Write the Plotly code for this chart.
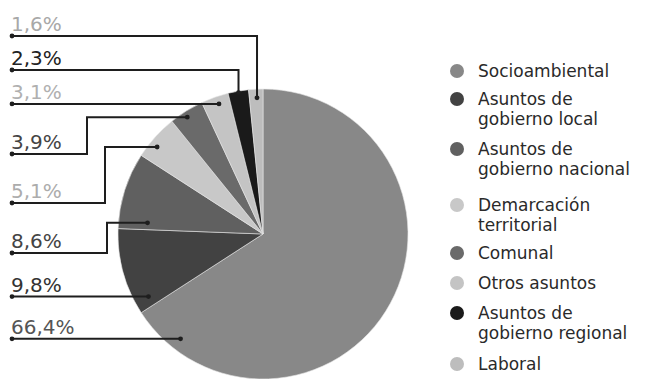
import math
import plotly.graph_objects as go

# Conflict categories and their share of cases (%)
categories = [
    "Socioambiental",
    "Asuntos de gobierno local",
    "Asuntos de gobierno nacional",
    "Demarcación territorial",
    "Comunal",
    "Otros asuntos",
    "Asuntos de gobierno regional",
    "Laboral",
]
shares = [66.4, 9.8, 8.6, 5.1, 3.9, 3.1, 2.3, 1.6]

# Legend wording, split over lines as printed
legend_text = [
    ["Socioambiental"],
    ["Asuntos de", "gobierno local"],
    ["Asuntos de", "gobierno nacional"],
    ["Demarcación", "territorial"],
    ["Comunal"],
    ["Otros asuntos"],
    ["Asuntos de", "gobierno regional"],
    ["Laboral"],
]

# ---- styling -------------------------------------------------------------
W, H = 663, 379
CX, CY, R = 263, 234, 145

slice_colors = ["#888888", "#424242", "#606060", "#c8c8c8",
                "#6a6a6a", "#c4c4c4", "#1a1a1a", "#bdbdbd"]
label_colors = ["#555555", "#333333", "#444444", "#acacac",
                "#444444", "#b0b0b0", "#222222", "#a8a8a8"]

# leader routing: position inside the slice (fraction of its arc, fraction of radius)
leader = [
    dict(t=0.92, r=0.92, kind="flat"),
    dict(t=0.12, r=0.90, kind="flat"),
    dict(t=0.11, r=0.80, kind="step", row=253, elbow=107),
    dict(t=0.36, r=0.945, kind="step", row=203, elbow=105),
    dict(t=0.43, r=0.96, kind="step", row=154, elbow=87),
    dict(t=0.57, r=0.947, kind="flat"),
    dict(t=0.50, r=0.99, kind="drop", row=70),
    dict(t=0.56, r=0.94, kind="drop", row=36),
]
legend_rows = [[71], [99, 119], [149, 169], [205, 225], [253], [283], [313, 333], [364]]

LINE_X0 = 12
LINE_COLOR = "#1e1e1e"
PCT_FONT = "DejaVu Sans"
LEG_FONT = "DejaVu Sans"

fig = go.Figure()

fig.add_trace(go.Pie(
    labels=categories,
    values=shares,
    sort=False,
    direction="clockwise",
    rotation=0,
    textinfo="none",
    hoverinfo="label+percent",
    marker=dict(colors=slice_colors, line=dict(color="#e6e6e6", width=0.6)),
    domain=dict(x=[(CX - R) / W, (CX + R) / W], y=[(H - CY - R) / H, (H - CY + R) / H]),
    showlegend=False,
))

shapes = []
annotations = []

total = sum(shares)
cum = 0.0
for i, v in enumerate(shares):
    start = cum / total * 360.0
    span = v / total * 360.0
    cum += v
    st = leader[i]
    theta = math.radians(start + st["t"] * span)
    rr = st["r"] * R
    ex = CX + rr * math.sin(theta)
    ey = CY - rr * math.cos(theta)

    if st["kind"] == "flat":
        row = ey
        pts = [(LINE_X0, row), (ex, ey)]
    elif st["kind"] == "drop":
        row = st["row"]
        pts = [(LINE_X0, row), (ex, row), (ex, ey)]
    else:
        row = st["row"]
        pts = [(LINE_X0, row), (st["elbow"], row), (st["elbow"], ey), (ex, ey)]

    path = "M " + " L ".join(f"{x:.2f},{y:.2f}" for x, y in pts)
    shapes.append(dict(type="path", path=path, xref="x", yref="y",
                       line=dict(color=LINE_COLOR, width=2), layer="above"))
    for (px, py) in (pts[0], pts[-1]):
        shapes.append(dict(type="circle", xref="x", yref="y",
                           x0=px - 2.4, x1=px + 2.4, y0=py - 2.4, y1=py + 2.4,
                           fillcolor=LINE_COLOR, line=dict(width=0), layer="above"))

    text = f"{v:.1f}%".replace(".", ",")
    annotations.append(dict(
        x=LINE_X0 - 3, y=row - 12, xref="x", yref="y", text=text,
        showarrow=False, xanchor="left", yanchor="middle",
        font=dict(family=PCT_FONT, size=20, color=label_colors[i]),
    ))

# hand-placed legend column
for i, lines in enumerate(legend_text):
    ys = legend_rows[i]
    shapes.append(dict(type="circle", xref="x", yref="y",
                       x0=450, x1=464, y0=ys[0] - 7, y1=ys[0] + 7,
                       fillcolor=slice_colors[i], line=dict(width=0), layer="above"))
    for line, y in zip(lines, ys):
        annotations.append(dict(
            x=476, y=y, xref="x", yref="y", text=line, showarrow=False,
            xanchor="left", yanchor="middle",
            font=dict(family=LEG_FONT, size=17, color="#2a2a2a"),
        ))

fig.update_layout(
    width=W, height=H, autosize=False,
    margin=dict(l=0, r=0, t=0, b=0),
    paper_bgcolor="white", plot_bgcolor="white",
    xaxis=dict(range=[0, W], visible=False, fixedrange=True, domain=[0, 1]),
    yaxis=dict(range=[H, 0], visible=False, fixedrange=True, domain=[0, 1]),
    shapes=shapes,
    annotations=annotations,
    showlegend=False,
)

fig.write_html("out.html")
